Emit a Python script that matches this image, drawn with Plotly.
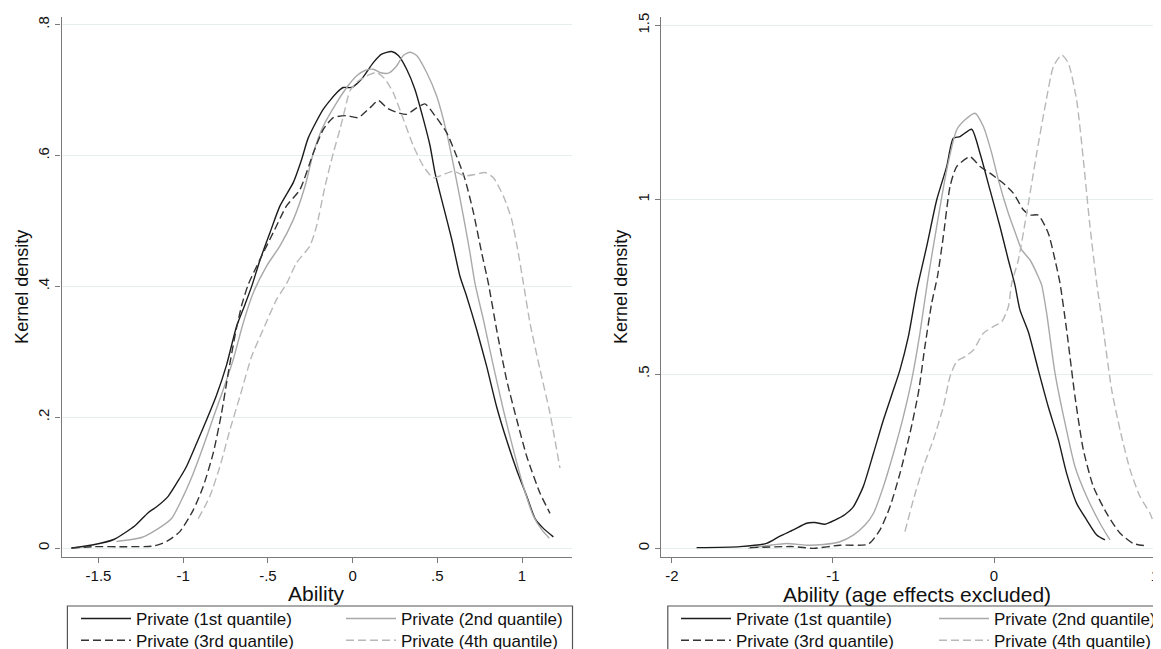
import plotly.graph_objects as go

# ---------------- data ----------------
series_names = ["Private (1st quantile)", "Private (2nd quantile)",
                "Private (3rd quantile)", "Private (4th quantile)"]

# Left panel: Ability
left_q1_x = [-1.66, -1.53, -1.41, -1.285, -1.207, -1.157, -1.089, -1.02, -0.98, -0.921, -0.862, -0.803,
             -0.744, -0.685, -0.636, -0.596, -0.547, -0.488, -0.429, -0.350, -0.301, -0.262, -0.173,
             -0.094, -0.055, -0.006, 0.053, 0.122, 0.171, 0.230, 0.270, 0.319, 0.368, 0.417, 0.457,
             0.486, 0.535, 0.585, 0.634, 0.673, 0.732, 0.791, 0.850, 0.909, 0.969, 1.028, 1.077,
             1.126, 1.185]
left_q1_y = [0.0, 0.005, 0.013, 0.034, 0.054, 0.063, 0.079, 0.107, 0.125, 0.160, 0.196, 0.234,
             0.280, 0.339, 0.372, 0.400, 0.440, 0.482, 0.523, 0.559, 0.594, 0.627, 0.671,
             0.696, 0.704, 0.704, 0.717, 0.742, 0.755, 0.759, 0.753, 0.732, 0.701, 0.656, 0.615,
             0.574, 0.523, 0.472, 0.415, 0.385, 0.334, 0.278, 0.216, 0.165, 0.119, 0.079, 0.045,
             0.030, 0.017]

left_q2_x = [-1.394, -1.246, -1.157, -1.069, -1.0, -0.941, -0.882, -0.823, -0.764, -0.705, -0.646,
             -0.587, -0.508, -0.429, -0.350, -0.281, -0.232, -0.173, -0.094, -0.026, 0.024, 0.073,
             0.122, 0.161, 0.211, 0.260, 0.299, 0.339, 0.378, 0.437, 0.496, 0.555, 0.604, 0.654,
             0.693, 0.722, 0.772, 0.831, 0.890, 0.949, 1.008, 1.067, 1.116, 1.161]
left_q2_y = [0.010, 0.016, 0.028, 0.045, 0.079, 0.114, 0.155, 0.199, 0.242, 0.288, 0.344,
             0.390, 0.431, 0.462, 0.502, 0.553, 0.604, 0.645, 0.681, 0.707, 0.722, 0.730,
             0.732, 0.727, 0.726, 0.737, 0.753, 0.758, 0.753, 0.727, 0.691, 0.635, 0.574, 0.507,
             0.451, 0.405, 0.349, 0.278, 0.211, 0.150, 0.094, 0.049, 0.028, 0.015]

left_q3_x = [-1.66, -1.53, -1.335, -1.177, -1.098, -1.02, -0.941, -0.882, -0.823, -0.774, -0.734,
             -0.695, -0.656, -0.616, -0.547, -0.469, -0.390, -0.311, -0.232, -0.173, -0.114, -0.035,
             0.033, 0.102, 0.152, 0.201, 0.260, 0.319, 0.378, 0.427, 0.486, 0.555, 0.614, 0.663,
             0.713, 0.762, 0.801, 0.850, 0.909, 0.969, 1.028, 1.106, 1.165]
left_q3_y = [0.0, 0.002, 0.002, 0.003, 0.010, 0.025, 0.058, 0.094, 0.145, 0.206, 0.268,
             0.324, 0.370, 0.403, 0.441, 0.482, 0.523, 0.548, 0.604, 0.640, 0.658, 0.661,
             0.658, 0.673, 0.684, 0.673, 0.666, 0.663, 0.673, 0.679, 0.661, 0.635, 0.599, 0.564,
             0.513, 0.451, 0.405, 0.334, 0.257, 0.196, 0.140, 0.084, 0.053]

left_q4_x = [-0.911, -0.843, -0.783, -0.724, -0.665, -0.596, -0.528, -0.449, -0.390, -0.331, -0.252,
             -0.213, -0.163, -0.114, -0.075, -0.045, -0.016, 0.033, 0.102, 0.142, 0.191, 0.240,
             0.299, 0.358, 0.417, 0.476, 0.535, 0.594, 0.663, 0.722, 0.781, 0.831, 0.890, 0.939,
             0.978, 1.008, 1.047, 1.106, 1.165, 1.224]
left_q4_y = [0.045, 0.079, 0.125, 0.181, 0.232, 0.293, 0.334, 0.380, 0.404, 0.436, 0.462,
             0.492, 0.553, 0.604, 0.640, 0.671, 0.699, 0.714, 0.724, 0.727, 0.717, 0.696,
             0.656, 0.615, 0.584, 0.566, 0.571, 0.576, 0.569, 0.571, 0.574, 0.566, 0.538, 0.502,
             0.451, 0.405, 0.344, 0.273, 0.206, 0.122]

# Right panel: Ability (age effects excluded)
right_q1_x = [-1.847, -1.578, -1.412, -1.329, -1.246, -1.164, -1.112, -1.050, -0.988, -0.925, -0.874,
              -0.812, -0.749, -0.687, -0.625, -0.584, -0.532, -0.480, -0.418, -0.356, -0.294, -0.253,
              -0.211, -0.139, -0.087, -0.025, 0.037, 0.089, 0.130, 0.161, 0.213, 0.275, 0.337, 0.400,
              0.451, 0.513, 0.576, 0.638, 0.689]
right_q1_y = [0.002, 0.005, 0.014, 0.035, 0.053, 0.072, 0.074, 0.069, 0.081, 0.097, 0.119,
              0.177, 0.272, 0.368, 0.454, 0.512, 0.607, 0.740, 0.866, 0.999, 1.095, 1.176,
              1.181, 1.202, 1.133, 1.028, 0.923, 0.827, 0.755, 0.684, 0.621, 0.512, 0.406, 0.311,
              0.215, 0.129, 0.081, 0.038, 0.024]

right_q2_x = [-1.526, -1.391, -1.288, -1.164, -1.060, -0.957, -0.874, -0.801, -0.749, -0.687, -0.625,
              -0.563, -0.511, -0.460, -0.413, -0.356, -0.294, -0.232, -0.180, -0.118, -0.066, -0.014,
              0.027, 0.089, 0.141, 0.172, 0.224, 0.275, 0.296, 0.327, 0.379, 0.441, 0.503, 0.576,
              0.658, 0.720]
right_q2_y = [0.0, 0.009, 0.014, 0.009, 0.011, 0.019, 0.038, 0.067, 0.100, 0.177, 0.272,
              0.378, 0.483, 0.617, 0.765, 0.923, 1.085, 1.200, 1.229, 1.248, 1.210, 1.133,
              1.057, 0.961, 0.894, 0.856, 0.827, 0.779, 0.755, 0.674, 0.502, 0.359, 0.234, 0.148,
              0.072, 0.024]

right_q3_x = [-1.516, -1.246, -1.122, -0.957, -0.780, -0.708, -0.646, -0.584, -0.522, -0.470, -0.429,
              -0.387, -0.351, -0.315, -0.273, -0.232, -0.149, -0.087, -0.025, 0.058, 0.120, 0.182,
              0.224, 0.275, 0.337, 0.379, 0.410, 0.451, 0.503, 0.555, 0.617, 0.700, 0.783, 0.865,
              0.948]
right_q3_y = [0.002, 0.005, 0.0, 0.009, 0.012, 0.053, 0.119, 0.215, 0.330, 0.445, 0.579,
              0.703, 0.780, 0.894, 1.038, 1.095, 1.123, 1.095, 1.076, 1.047, 1.019, 0.971,
              0.956, 0.956, 0.904, 0.827, 0.760, 0.626, 0.435, 0.282, 0.177, 0.100, 0.043, 0.014,
              0.007]

right_q4_x = [-0.553, -0.501, -0.439, -0.377, -0.315, -0.273, -0.232, -0.180, -0.128, -0.066, -0.004,
              0.048, 0.089, 0.110, 0.151, 0.203, 0.265, 0.317, 0.369, 0.420, 0.462, 0.513, 0.555,
              0.596, 0.638, 0.679, 0.731, 0.783, 0.845, 0.907, 0.969, 1.031]
right_q4_y = [0.048, 0.139, 0.234, 0.311, 0.406, 0.493, 0.536, 0.550, 0.569, 0.617, 0.636,
              0.650, 0.693, 0.760, 0.827, 0.961, 1.133, 1.267, 1.382, 1.415, 1.391, 1.286, 1.114,
              0.923, 0.760, 0.626, 0.454, 0.339, 0.225, 0.148, 0.100, 0.024]

left_xticks = [-1.5, -1, -0.5, 0, 0.5, 1]
left_xtick_labels = ["-1.5", "-1", "-.5", "0", ".5", "1"]
left_yticks = [0, 0.2, 0.4, 0.6, 0.8]
left_ytick_labels = ["0", ".2", ".4", ".6", ".8"]
right_xticks = [-2, -1, 0, 1]
right_xtick_labels = ["-2", "-1", "0", "1"]
right_yticks = [0, 0.5, 1, 1.5]
right_ytick_labels = ["0", ".5", "1", "1.5"]

left_xtitle = "Ability"
right_xtitle = "Ability (age effects excluded)"
ytitle = "Kernel density"

# ---------------- styling / layout ----------------
FONT = "Liberation Sans, Arial, sans-serif"
W, H = 1161, 649
OFF = 8  # the page body has an 8px margin; positions below are in page pixels


def px(p):
    return (p - OFF) / W


def py(p):
    return 1 - (p - OFF) / H


styles = [
    dict(color="#1c1c1c", width=1.4, dash="solid"),
    dict(color="#a9a9a9", width=1.4, dash="solid"),
    dict(color="#333333", width=1.4, dash="8px,4px"),
    dict(color="#b8b8b8", width=1.4, dash="8px,4px"),
]
# one legend per entry so the two-column, two-row Stata layout can be placed exactly
left_legend_ids = ["legend", "legend2", "legend3", "legend4"]
right_legend_ids = ["legend5", "legend6", "legend7", "legend8"]
col_x_left = [76, 341, 76, 341]
col_x_right = [676, 934, 676, 934]
row_y = [601, 622.7]
row_of = [0, 0, 1, 1]

fig = go.Figure()
left_data = [(left_q1_x, left_q1_y), (left_q2_x, left_q2_y), (left_q3_x, left_q3_y), (left_q4_x, left_q4_y)]
right_data = [(right_q1_x, right_q1_y), (right_q2_x, right_q2_y), (right_q3_x, right_q3_y), (right_q4_x, right_q4_y)]

for i, (xs, ys) in enumerate(left_data):
    fig.add_trace(go.Scatter(x=xs, y=ys, mode="lines", name=series_names[i],
                             line=dict(shape="spline", smoothing=0.6, **styles[i]),
                             xaxis="x", yaxis="y", legend=left_legend_ids[i]))
for i, (xs, ys) in enumerate(right_data):
    fig.add_trace(go.Scatter(x=xs, y=ys, mode="lines", name=series_names[i],
                             line=dict(shape="spline", smoothing=0.6, **styles[i]),
                             xaxis="x2", yaxis="y2", legend=right_legend_ids[i]))

axis_common = dict(showline=True, linecolor="#7a7a7a", linewidth=1.3, ticks="outside",
                   ticklen=5, tickcolor="#7a7a7a", tickwidth=1.2, zeroline=False,
                   automargin=False,
                   tickfont=dict(family=FONT, size=15, color="#111"))

y_dom = [py(556.7), py(17)]


def legend_at(x_page, y_page):
    return dict(x=px(x_page), y=py(y_page), xanchor="left", yanchor="top",
                orientation="v", borderwidth=0, bgcolor="rgba(0,0,0,0)",
                itemwidth=50, tracegroupgap=0,
                font=dict(family=FONT, size=17, color="#111"))


legends = {}
for i in range(4):
    legends[left_legend_ids[i]] = legend_at(col_x_left[i], row_y[row_of[i]])
    legends[right_legend_ids[i]] = legend_at(col_x_right[i], row_y[row_of[i]])

fig.update_layout(
    width=W, height=H,
    margin=dict(l=0, r=0, t=0, b=0, autoexpand=False),
    paper_bgcolor="white", plot_bgcolor="white",
    font=dict(family=FONT, color="#111"),
    xaxis=dict(domain=[px(61.6), px(572)], range=[-1.718, 1.295], anchor="y",
               tickvals=left_xticks, ticktext=left_xtick_labels, showgrid=False,
               **axis_common),
    yaxis=dict(domain=y_dom, range=[-0.0133, 0.8118], anchor="x",
               tickvals=left_yticks, ticktext=left_ytick_labels, tickangle=-90,
               showgrid=True, gridcolor="#e6eff0", gridwidth=1,
               title=dict(text=ytitle, font=dict(size=18, family=FONT), standoff=2),
               **axis_common),
    xaxis2=dict(domain=[px(661), px(1161)], range=[-2.068, 1.037], anchor="y2",
                tickvals=right_xticks, ticktext=right_xtick_labels, showgrid=False,
                **axis_common),
    yaxis2=dict(domain=y_dom, range=[-0.024, 1.524], anchor="x2",
                tickvals=right_yticks, ticktext=right_ytick_labels, tickangle=-90,
                showgrid=True, gridcolor="#e6eff0", gridwidth=1,
                title=dict(text=ytitle, font=dict(size=18, family=FONT), standoff=2),
                **axis_common),
    showlegend=True,
    annotations=[
        dict(text=left_xtitle, xref="paper", yref="paper", x=px(316.8), y=py(593),
             xanchor="center", yanchor="middle", showarrow=False,
             font=dict(family=FONT, size=21, color="#111")),
        dict(text=right_xtitle, xref="paper", yref="paper", x=px(916.8), y=py(594),
             xanchor="center", yanchor="middle", showarrow=False,
             font=dict(family=FONT, size=21, color="#111")),
    ],
    shapes=[
        dict(type="rect", xref="paper", yref="paper", x0=px(67.4), x1=px(572.5),
             y0=py(665), y1=py(606), line=dict(color="#555", width=1.2),
             fillcolor="rgba(0,0,0,0)", layer="below"),
        dict(type="rect", xref="paper", yref="paper", x0=px(667.8), x1=px(1180),
             y0=py(665), y1=py(606), line=dict(color="#555", width=1.2),
             fillcolor="rgba(0,0,0,0)", layer="below"),
    ],
)
fig.update_layout(**legends)

fig.write_html("out.html")
